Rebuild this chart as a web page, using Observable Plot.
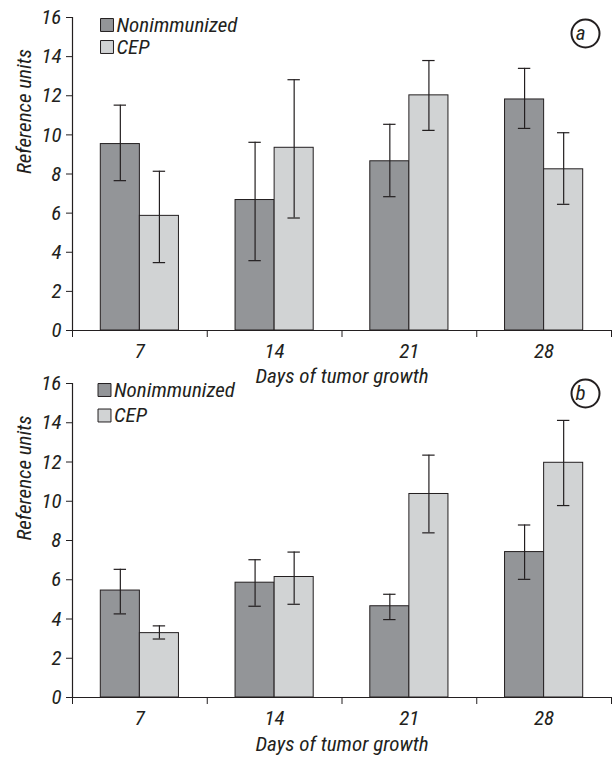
<!DOCTYPE html>
<html>
<head>
<meta charset="utf-8">
<script src="https://cdn.jsdelivr.net/npm/d3@7"></script>
<script src="https://cdn.jsdelivr.net/npm/@observablehq/plot@0.6"></script>
<style>
  html, body { margin: 0; padding: 0; background: #fff; }
  #chart svg { display: block; }
</style>
</head>
<body>
<div id="chart"></div>
<script>
const days = ["7", "14", "21", "28"];
const groups = ["Nonimmunized", "CEP"];
const yTicks = [0, 2, 4, 6, 8, 10, 12, 14, 16];

// Panel a
const aNonMean = [9.53, 6.67, 8.65, 11.81];
const aNonLo   = [7.66, 3.57, 6.84, 10.33];
const aNonHi   = [11.52, 9.62, 10.54, 13.40];
const aCepMean = [5.86, 9.34, 12.02, 8.24];
const aCepLo   = [3.47, 5.75, 10.23, 6.45];
const aCepHi   = [8.14, 12.82, 13.80, 10.11];

// Panel b
const bNonMean = [5.45, 5.85, 4.65, 7.41];
const bNonLo   = [4.26, 4.65, 3.97, 6.02];
const bNonHi   = [6.53, 7.02, 5.26, 8.79];
const bCepMean = [3.28, 6.14, 10.37, 11.96];
const bCepLo   = [2.98, 4.75, 8.39, 9.78];
const bCepHi   = [3.65, 7.41, 12.35, 14.12];

const FONT = '"Liberation Sans Narrow", "Arial Narrow", "Roboto Condensed", "DejaVu Sans Condensed", "Liberation Sans", sans-serif';
const INK = "#231f20";
const colors = {Nonimmunized: "#939598", CEP: "#d1d3d4"};
const BW = 0.29;     // bar width in category units
const CAP = 0.046;   // half cap width

function rows(nm, nl, nh, cm, cl, ch) {
  const out = [];
  days.forEach((d, i) => {
    const c = i + 1;
    out.push({day: d, group: "Nonimmunized", x1: c - BW, x2: c, cx: c - BW / 2, v: nm[i], lo: nl[i], hi: nh[i]});
    out.push({day: d, group: "CEP", x1: c, x2: c + BW, cx: c + BW / 2, v: cm[i], lo: cl[i], hi: ch[i]});
  });
  return out;
}

function panel(data, opts) {
  const fs = 21;
  return Plot.plot({
    width: 612,
    height: opts.height,
    marginLeft: 72,
    marginRight: 1,
    marginTop: opts.marginTop,
    marginBottom: opts.marginBottom,
    style: {fontFamily: FONT, fontStyle: "italic", fontWeight: 400, fontSize: fs + "px", color: INK, background: "#fff", overflow: "visible"},
    x: {type: "linear", domain: [0.5, 4.5]},
    y: {domain: [0, 16]},
    marks: [
      Plot.rectY(data, {x1: "x1", x2: "x2", y: "v", fill: d => colors[d.group], stroke: INK, strokeWidth: 1}),
      Plot.ruleX(data, {x: "cx", y1: "lo", y2: "hi", stroke: INK, strokeWidth: 1.2}),
      Plot.ruleY(data, {y: "hi", x1: d => d.cx - CAP, x2: d => d.cx + CAP, stroke: INK, strokeWidth: 1.2}),
      Plot.ruleY(data, {y: "lo", x1: d => d.cx - CAP, x2: d => d.cx + CAP, stroke: INK, strokeWidth: 1.2}),
      Plot.ruleX([0.5], {stroke: INK, strokeWidth: 1.2}),
      Plot.ruleY([0], {stroke: INK, strokeWidth: 1.2}),
      Plot.axisY({ticks: yTicks, tickSize: 6, tickPadding: 5, label: null, stroke: INK, fill: INK, fontSize: fs}),
      Plot.axisX({ticks: [0.5, 1.5, 2.5, 3.5, 4.5], tickSize: 7, tickFormat: () => "", label: null, stroke: INK}),
      Plot.axisX({ticks: [1, 2, 3, 4], tickSize: 0, tickPadding: opts.xPad, tickFormat: i => days[i - 1], label: null, fill: INK, fontSize: fs}),
      Plot.text(["Days of tumor growth"], {frameAnchor: "bottom", dy: opts.titleDy, fill: INK, fontSize: fs, lineAnchor: "middle"}),
      Plot.text(["Reference units"], {frameAnchor: "left", dx: -48, rotate: -90, fill: INK, fontSize: fs, lineAnchor: "middle"}),
      // legend
      Plot.dot([groups[0]], {frameAnchor: "top-left", dx: opts.legDx, dy: opts.legDy[0], symbol: "square", r: 7.3, fill: colors.Nonimmunized, stroke: INK, strokeWidth: 1}),
      Plot.dot([groups[1]], {frameAnchor: "top-left", dx: opts.legDx, dy: opts.legDy[1], symbol: "square", r: 7.3, fill: colors.CEP, stroke: INK, strokeWidth: 1}),
      Plot.text([groups[0]], {frameAnchor: "top-left", dx: opts.legDx + 9.5, dy: opts.legDy[0], text: d => d, textAnchor: "start", lineAnchor: "middle", fill: INK, fontSize: fs}),
      Plot.text([groups[1]], {frameAnchor: "top-left", dx: opts.legDx + 9.5, dy: opts.legDy[1], text: d => d, textAnchor: "start", lineAnchor: "middle", fill: INK, fontSize: fs}),
      // panel letter
      Plot.dot([opts.letter], {frameAnchor: "top-right", dx: -26, dy: opts.letterDy, r: 14, fill: "none", stroke: INK, strokeWidth: 2}),
      Plot.text([opts.letter], {frameAnchor: "top-right", dx: -26, dy: opts.letterDy, text: d => d, lineAnchor: "middle", fill: INK, fontSize: fs})
    ]
  });
}

const chart = document.getElementById("chart");
chart.append(panel(rows(aNonMean, aNonLo, aNonHi, aCepMean, aCepLo, aCepHi),
  {height: 370, marginTop: 17, marginBottom: 40, xPad: 13, titleDy: 46, legDx: 34.5, legDy: [7.5, 29.5], letter: "a", letterDy: 16}));
chart.append(panel(rows(bNonMean, bNonLo, bNonHi, bCepMean, bCepLo, bCepHi),
  {height: 388, marginTop: 13, marginBottom: 61, xPad: 13, titleDy: 47, legDx: 32, legDy: [6.5, 32], letter: "b", letterDy: 10}));
</script>
</body>
</html>
